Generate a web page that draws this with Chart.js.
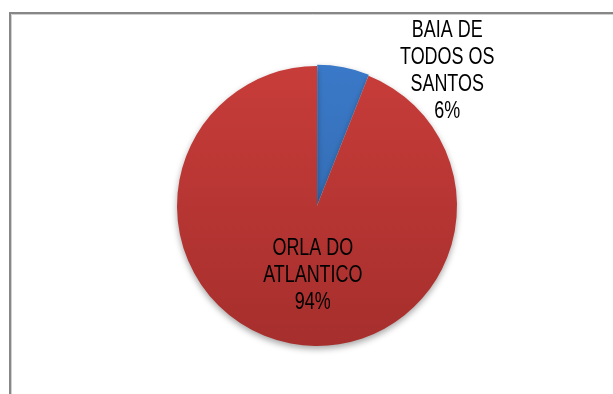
<!DOCTYPE html>
<html>
<head>
<meta charset="utf-8">
<script src="https://cdn.jsdelivr.net/npm/chart.js@4.4.0/dist/chart.umd.min.js"></script>
<style>
  html, body { margin: 0; padding: 0; background: #fff; }
  #wrap { width: 613px; height: 394px; position: relative; }
</style>
</head>
<body>
<div id="wrap"><canvas id="pie"></canvas></div>
<script>
"use strict"

// regions and their share (%)
const regions = ['BAIA DE TODOS OS SANTOS', 'ORLA DO ATLANTICO'];
const shares = [6, 94];
// how each label is broken into lines
const labelLines = [
    ['BAIA DE', 'TODOS OS', 'SANTOS'],
    ['ORLA DO', 'ATLANTICO']
];
// top / bottom colour of each slice's gradient
const topColors = ['#3c7dce', '#cd3f3c'];
const bottomColors = ['#2d5e9e', '#a02c2a'];

const FONT = '23px "Liberation Sans", Arial, sans-serif';
const SQUEEZE = 0.78; // condensed look for the labels

// top-to-bottom gradient for each slice
const sliceFill = (ctx) => {
    const i = ctx.dataIndex;
    const area = ctx.chart.chartArea;
    if (!area) return topColors[i];
    const g = ctx.chart.ctx.createLinearGradient(0, area.top, 0, area.bottom);
    g.addColorStop(0, topColors[i]);
    g.addColorStop(1, bottomColors[i]);
    return g;
};

// white page plus the grey frame
const frame = {
    id: 'frame',
    beforeDraw(chart) {
        const c = chart.ctx;
        c.save();
        c.fillStyle = '#fff';
        c.fillRect(0, 0, chart.width, chart.height);
        c.strokeStyle = '#d0d0d0';
        c.lineWidth = 1;
        c.beginPath();
        c.moveTo(11.5, chart.height);
        c.lineTo(11.5, 14.5);
        c.lineTo(chart.width, 14.5);
        c.stroke();
        c.strokeStyle = '#878787';
        c.lineWidth = 2;
        c.beginPath();
        c.moveTo(10, chart.height);
        c.lineTo(10, 13);
        c.lineTo(chart.width, 13);
        c.stroke();
        c.restore();
    }
};

// soft drop shadow under the pie
const shadow = {
    id: 'shadow',
    beforeDatasetsDraw(chart) {
        const c = chart.ctx;
        c.save();
        c.shadowColor = 'rgba(0,0,0,0.35)';
        c.shadowBlur = 6;
        c.shadowOffsetY = 3;
    },
    afterDatasetsDraw(chart) {
        chart.ctx.restore();
    }
};

// data labels: name lines plus percentage
const sliceLabels = {
    id: 'sliceLabels',
    afterDraw(chart) {
        const c = chart.ctx;
        const arcs = chart.getDatasetMeta(0).data;
        const total = shares.reduce((a, b) => a + b, 0);
        const big = arcs[1];
        const cx = big.x, cy = big.y, r = big.outerRadius;
        // label block centres, relative to the pie
        const spots = [
            { x: cx + 0.93 * r, y: cy - 0.96 * r },
            { x: cx - 0.03 * r, y: cy + 0.50 * r }
        ];
        const lh = 27;
        c.save();
        c.font = FONT;
        c.fillStyle = '#000';
        c.textAlign = 'center';
        c.textBaseline = 'middle';
        shares.forEach((v, i) => {
            const lines = labelLines[i].concat([Math.round(v / total * 100) + '%']);
            const y0 = spots[i].y - (lines.length - 1) * lh / 2;
            lines.forEach((t, k) => {
                c.save();
                c.translate(spots[i].x, y0 + k * lh);
                c.scale(SQUEEZE, 1);
                c.fillText(t, 0, 0);
                c.restore();
            });
        });
        c.restore();
    }
};

new Chart(document.getElementById('pie'), {
    type: 'pie',
    data: {
        labels: regions,
        datasets: [{
            data: shares,
            backgroundColor: sliceFill,
            borderWidth: 0,
            offset: [3, 0],
            radius: 140
        }]
    },
    options: {
        responsive: true,
        maintainAspectRatio: false,
        animation: false,
        layout: { padding: { left: 21, right: 0, top: 18, bottom: 0 } },
        plugins: {
            legend: { display: false },
            tooltip: { enabled: false }
        }
    },
    plugins: [frame, shadow, sliceLabels]
});
</script>
</body>
</html>
